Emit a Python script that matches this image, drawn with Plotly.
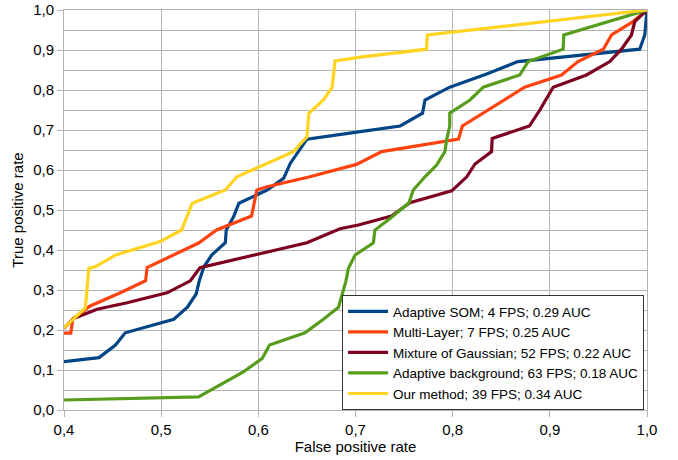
import plotly.graph_objects as go

# --- data ---
names = [
    "Adaptive SOM; 4 FPS; 0.29 AUC",
    "Multi-Layer; 7 FPS; 0.25 AUC",
    "Mixture of Gaussian; 52 FPS; 0.22 AUC",
    "Adaptive background; 63 FPS; 0.18 AUC",
    "Our method; 39 FPS; 0.34 AUC",
]
colors = ["#004586", "#ff420e", "#7e0021", "#579d1c", "#ffd320"]

som_x = [0.400, 0.436, 0.453, 0.463, 0.513, 0.527, 0.536, 0.539, 0.544, 0.552, 0.566, 0.567,
         0.5745, 0.580, 0.609, 0.626, 0.633, 0.650, 0.705, 0.746, 0.769, 0.7715, 0.797, 0.835,
         0.867, 0.9925, 0.9977, 1.000]
som_y = [0.121, 0.131, 0.1625, 0.193, 0.227, 0.257, 0.290, 0.321, 0.358, 0.3875, 0.418, 0.450,
         0.483, 0.517, 0.550, 0.579, 0.617, 0.677, 0.696, 0.710, 0.742, 0.775, 0.807, 0.840,
         0.871, 0.902, 0.9375, 1.000]

ml_x = [0.400, 0.407, 0.409, 0.427, 0.458, 0.484, 0.4855, 0.539, 0.557, 0.593, 0.5985, 0.609,
        0.653, 0.701, 0.727, 0.806, 0.810, 0.8315, 0.874, 0.912, 0.929, 0.955, 0.9635, 0.9856, 1.000]
ml_y = [0.192, 0.192, 0.227, 0.260, 0.293, 0.323, 0.356, 0.418, 0.450, 0.485, 0.550, 0.558,
        0.583, 0.614, 0.646, 0.677, 0.710, 0.742, 0.807, 0.8375, 0.871, 0.902, 0.9375, 0.971, 1.000]

mog_x = [0.400, 0.410, 0.434, 0.465, 0.506, 0.530, 0.540, 0.650, 0.684, 0.703, 0.737, 0.756,
         0.799, 0.8145, 0.823, 0.840, 0.8407, 0.879, 0.8897, 0.9034, 0.9377, 0.9617, 0.9737,
         0.984, 0.9874, 1.000]
mog_y = [0.204, 0.229, 0.252, 0.268, 0.293, 0.323, 0.356, 0.418, 0.453, 0.4625, 0.485, 0.518,
         0.548, 0.583, 0.615, 0.646, 0.679, 0.710, 0.750, 0.807, 0.8375, 0.871, 0.902,
         0.9375, 0.971, 1.000]

ab_x = [0.400, 0.5385, 0.585, 0.604, 0.6115, 0.648, 0.667, 0.6825, 0.690, 0.6927, 0.6996,
        0.7184, 0.720, 0.7356, 0.755, 0.7595, 0.7715, 0.7835, 0.792, 0.7938, 0.797, 0.797,
        0.8178, 0.8315, 0.869, 0.8777, 0.9137, 0.9144, 1.000]
ab_y = [0.025, 0.033, 0.096, 0.129, 0.1625, 0.193, 0.227, 0.257, 0.321, 0.354, 0.3875,
        0.418, 0.450, 0.479, 0.518, 0.550, 0.583, 0.6125, 0.646, 0.675, 0.710, 0.742,
        0.775, 0.807, 0.8375, 0.871, 0.902, 0.9375, 1.000]

our_x = [0.400, 0.422, 0.4255, 0.432, 0.453, 0.499, 0.521, 0.532, 0.566, 0.578, 0.636, 0.650,
         0.652, 0.667, 0.676, 0.679, 0.705, 0.773, 0.774, 1.000]
our_y = [0.205, 0.255, 0.354, 0.358, 0.3875, 0.421, 0.450, 0.517, 0.550, 0.583, 0.646, 0.683,
         0.742, 0.775, 0.807, 0.8725, 0.882, 0.902, 0.9375, 1.000]

xs = [som_x, ml_x, mog_x, ab_x, our_x]
ys = [som_y, ml_y, mog_y, ab_y, our_y]

x_ticks = [0.4, 0.5, 0.6, 0.7, 0.8, 0.9, 1.0]
y_ticks = [0.0, 0.1, 0.2, 0.3, 0.4, 0.5, 0.6, 0.7, 0.8, 0.9, 1.0]

fig = go.Figure()
for n, c, x, y in zip(names, colors, xs, ys):
    fig.add_trace(go.Scatter(x=x, y=y, mode="lines", name=n,
                             line=dict(color=c, width=3.2)))

grid = "#b3b3b3"
ff = "Liberation Sans, Arial, sans-serif"
font = dict(family=ff, size=13, color="#000000")
fig.update_layout(
    width=678, height=460,
    margin=dict(l=63.5, r=31, t=10, b=50, autoexpand=False),
    paper_bgcolor="white", plot_bgcolor="white",
    font=font,
    separators=", ",
    showlegend=True,
    legend=dict(x=0.477, y=0, xanchor="left", yanchor="bottom",
                bgcolor="white", bordercolor="#333333", borderwidth=1,
                font=dict(family=ff, size=13.5),
                tracegroupgap=0, itemwidth=40),
    xaxis=dict(range=[0.4, 1.0], tickvals=x_ticks, tickformat=".1f",
               showgrid=True, gridcolor=grid, gridwidth=1, zeroline=False,
               showline=True, linecolor=grid, mirror=True,
               ticks="outside", ticklen=6, tickcolor=grid, automargin=False,
               title=dict(text="False positive rate", standoff=1, font=dict(size=15)),
               tickfont=dict(size=15)),
    yaxis=dict(range=[0, 1.0], tickvals=y_ticks, tickformat=".1f",
               showgrid=True, gridcolor=grid, gridwidth=1, zeroline=False,
               showline=True, linecolor=grid, mirror=True,
               ticks="outside", ticklen=6, tickcolor=grid, automargin=False,
               minor=dict(dtick=0.05, showgrid=True, gridcolor=grid, gridwidth=1),
               title=dict(text="True positive rate", standoff=5, font=dict(size=15)),
               tickfont=dict(size=15)),
)

fig.write_html("out.html", config={"displayModeBar": False},
               post_script="document.body.style.margin='0';")
